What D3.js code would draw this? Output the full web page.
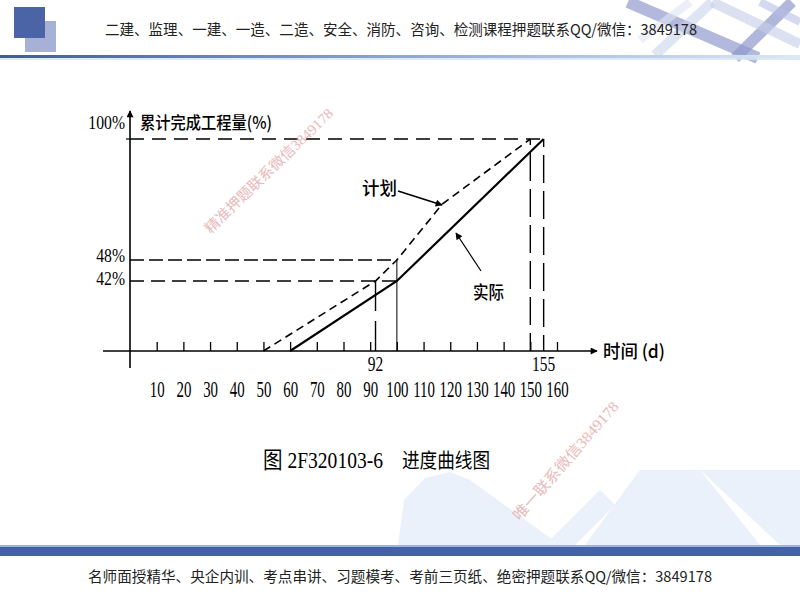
<!DOCTYPE html>
<html>
<head>
<meta charset="utf-8">
<script src="https://cdn.jsdelivr.net/npm/d3@7"></script>
<style>
  html, body { margin: 0; padding: 0; background: #fff; }
  svg { display: block; }
</style>
</head>
<body>
<svg id="chart" width="800" height="600"></svg>
<script>
// ---------- data ----------
const planDays   = [50, 92, 100, 117, 150];
const planPct    = [0, 42, 48, 72, 100];
const actualDays = [60, 100, 155];
const actualPct  = [0, 42, 100];
const xTicks     = [10, 20, 30, 40, 50, 60, 70, 80, 90, 100, 110, 120, 130, 140, 150, 160];
const keyDays    = [92, 155];
const yMarks     = [100, 48, 42];
const yMarkLabels = ["100%", "48%", "42%"];
const headerText = "二建、监理、一建、一造、二造、安全、消防、咨询、检测课程押题联系QQ/微信：3849178";
const footerText = "名师面授精华、央企内训、考点串讲、习题模考、考前三页纸、绝密押题联系QQ/微信：3849178";
const yTitle = "累计完成工程量(%)";
const xTitle = "时间 (d)";
const planLabel = "计划";
const actualLabel = "实际";
const captionA = "图 2F320103-6";
const captionB = "进度曲线图";
const watermark1 = "精准押题联系微信3849178";
const watermark2 = "唯一联系微信3849178";

const svg = d3.select("#chart");
const CJK = "'Noto Sans CJK SC', 'Noto Sans', sans-serif";
const SERIF = "'Liberation Serif', 'Noto Sans CJK SC', serif";

// ---------- background decoration ----------
const defs = svg.append("defs");
const hg = defs.append("linearGradient").attr("id", "hline").attr("x1", "0").attr("x2", "1");
hg.append("stop").attr("offset", "0").attr("stop-color", "#3e5a9e");
hg.append("stop").attr("offset", "0.5").attr("stop-color", "#8fa6d2");
hg.append("stop").attr("offset", "1").attr("stop-color", "#dde8f4");
defs.append("marker").attr("id", "arr").attr("viewBox", "0 0 10 10")
  .attr("refX", 9).attr("refY", 5).attr("markerWidth", 9).attr("markerHeight", 7)
  .attr("markerUnits", "userSpaceOnUse").attr("orient", "auto")
  .append("path").attr("d", "M0,0 L10,5 L0,10 Z").attr("fill", "#000");

// bottom faint shapes
const bg = svg.append("g").attr("fill", "#eaf1fb");
[
  [[398,545],[404,500],[425,478],[450,472],[470,480],[560,545]],
  [[585,545],[640,470],[700,470],[760,545]],
  [[545,545],[600,490],[615,505],[575,545]],
  [[700,470],[800,470],[800,545],[780,545]]
].forEach(p => bg.append("path").attr("d", d3.line()(p) + "Z"));

// top-right crossing stripes
const tr = svg.append("g").attr("stroke-linecap", "butt").attr("fill", "none");
[
  [[628,2],[758,58],"#9aa2d2",12,0.75],
  [[735,58],[792,2],"#8f98cc",11,0.7],
  [[655,55],[712,2],"#c9d3ea",10,0.6],
  [[712,2],[800,44],"#c4cde8",10,0.6],
  [[690,2],[640,40],"#dfe5f3",8,0.6],
  [[760,2],[800,22],"#b5bfe2",8,0.6]
].forEach(s => tr.append("line").attr("x1", s[0][0]).attr("y1", s[0][1])
  .attr("x2", s[1][0]).attr("y2", s[1][1]).attr("stroke", s[2])
  .attr("stroke-width", s[3]).attr("opacity", s[4]));

// logo squares
svg.append("rect").attr("x", 25).attr("y", 21).attr("width", 31).attr("height", 31).attr("fill", "#a7b1d8");
svg.append("rect").attr("x", 14).attr("y", 7).attr("width", 31).attr("height", 31).attr("fill", "#4b64a6");

// header text and line
svg.append("text").attr("x", 105).attr("y", 35).attr("font-family", CJK).attr("font-size", 15)
  .attr("fill", "#222").attr("textLength", 592).attr("lengthAdjust", "spacingAndGlyphs").text(headerText);
svg.append("rect").attr("x", 0).attr("y", 55).attr("width", 800).attr("height", 3).attr("fill", "url(#hline)");
svg.append("rect").attr("x", 0).attr("y", 58).attr("width", 800).attr("height", 2).attr("fill", "#d6e3f2").attr("opacity", 0.8);

// footer bar and text
svg.append("rect").attr("x", 0).attr("y", 545).attr("width", 800).attr("height", 2).attr("fill", "#9fb3dc");
svg.append("rect").attr("x", 0).attr("y", 547).attr("width", 800).attr("height", 9).attr("fill", "#4462a6");
svg.append("text").attr("x", 88).attr("y", 582).attr("font-family", CJK).attr("font-size", 14.5)
  .attr("fill", "#222").attr("textLength", 624).attr("lengthAdjust", "spacingAndGlyphs").text(footerText);

// ---------- scales ----------
const x = d3.scaleLinear().domain([0, 160]).range([130, 557]);
const y = d3.scaleLinear().domain([0, 42, 48, 100]).range([351, 281, 260, 139]);

const g = svg.append("g");

// reference lines
const refH = [
  {v: 100, to: 155, dash: "14,8"},
  {v: 48,  to: 100, dash: "14,5"},
  {v: 42,  to: 100, dash: "14,7"}
];
refH.forEach(r => g.append("line").attr("x1", x(0)).attr("x2", x(r.to))
  .attr("y1", y(r.v)).attr("y2", y(r.v)).attr("stroke", "#000").attr("stroke-width", 1.6)
  .attr("stroke-dasharray", r.dash));

const refV = [
  {d: 92,  from: 42,  dash: "30,10", w: 1.4},
  {d: 100, from: 48,  dash: null,   w: 1},
  {d: 150, from: 100, dash: "28,8", w: 1.4, off: -14},
  {d: 155, from: 100, dash: "28,8", w: 1.4, off: -16}
];
refV.forEach(r => {
  const l = g.append("line").attr("x1", x(r.d)).attr("x2", x(r.d))
    .attr("y1", y(r.from)).attr("y2", y(0)).attr("stroke", "#000").attr("stroke-width", r.w);
  if (r.dash) l.attr("stroke-dasharray", r.dash).attr("stroke-dashoffset", r.off || 0);
});

// axes lines
g.append("line").attr("x1", 103).attr("x2", 597).attr("y1", y(0)).attr("y2", y(0))
  .attr("stroke", "#000").attr("stroke-width", 1.6).attr("marker-end", "url(#arr)");
g.append("line").attr("x1", x(0)).attr("x2", x(0)).attr("y1", 368).attr("y2", 111)
  .attr("stroke", "#000").attr("stroke-width", 1.6).attr("marker-end", "url(#arr)");
g.append("line").attr("x1", x(0) - 4).attr("x2", x(0)).attr("y1", y(100)).attr("y2", y(100))
  .attr("stroke", "#000").attr("stroke-width", 1.2);

// x axis ticks + labels
const xAxis = d3.axisBottom(x).tickValues(xTicks).tickSizeInner(-9).tickSizeOuter(0)
  .tickPadding(30).tickFormat(d3.format("d"));
const ax = g.append("g").attr("transform", `translate(0,${y(0)})`).call(xAxis);
ax.select(".domain").remove();
ax.selectAll(".tick line").attr("stroke", "#000").attr("stroke-width", 1.3);
ax.selectAll(".tick text").attr("font-family", SERIF).attr("font-size", 22.5)
  .attr("fill", "#000").attr("transform", "scale(0.66,1)");

// key day labels
keyDays.forEach(d => g.append("text").attr("transform", `translate(${x(d)},371) scale(0.72,1)`)
  .attr("text-anchor", "middle").attr("font-family", SERIF).attr("font-size", 21.5).text(d));

// y labels
yMarks.forEach((v, i) => {
  const yy = v === 100 ? y(v) - 10 : (v === 48 ? y(v) + 2 : y(v) + 4);
  g.append("text").attr("transform", `translate(125,${yy}) scale(0.85,1)`)
    .attr("text-anchor", "end").attr("font-family", SERIF).attr("font-size", 18.5).text(yMarkLabels[i]);
});

// axis titles
g.append("text").attr("x", 140).attr("y", 129).attr("font-family", CJK).attr("font-size", 17)
  .attr("font-weight", 500).attr("textLength", 132).attr("lengthAdjust", "spacingAndGlyphs").text(yTitle);
g.append("text").attr("x", 603).attr("y", 358).attr("font-family", CJK).attr("font-size", 18)
  .attr("font-weight", 500).attr("textLength", 62).attr("lengthAdjust", "spacingAndGlyphs").text(xTitle);

// curves
const line = d3.line().x(d => x(d[0])).y(d => y(d[1]));
g.append("path").datum(d3.zip(planDays, planPct)).attr("d", line)
  .attr("fill", "none").attr("stroke", "#000").attr("stroke-width", 1.6).attr("stroke-dasharray", "8,5");
g.append("path").datum(d3.zip(actualDays, actualPct)).attr("d", line)
  .attr("fill", "none").attr("stroke", "#000").attr("stroke-width", 2.2);

// annotations
g.append("text").attr("x", 362).attr("y", 195).attr("font-family", CJK).attr("font-size", 18)
  .attr("font-weight", 500).attr("textLength", 35).attr("lengthAdjust", "spacingAndGlyphs").text(planLabel);
g.append("line").attr("x1", 398).attr("y1", 191).attr("x2", 442).attr("y2", 205)
  .attr("stroke", "#000").attr("stroke-width", 1.6).attr("marker-end", "url(#arr)");
g.append("text").attr("x", 473).attr("y", 299).attr("font-family", CJK).attr("font-size", 18)
  .attr("font-weight", 500).attr("textLength", 31).attr("lengthAdjust", "spacingAndGlyphs").text(actualLabel);
g.append("line").attr("x1", 481).attr("y1", 271).attr("x2", 456).attr("y2", 233)
  .attr("stroke", "#000").attr("stroke-width", 1.2).attr("marker-end", "url(#arr)");

// caption
svg.append("text").attr("x", 263).attr("y", 468).attr("font-family", SERIF).attr("font-size", 23)
  .attr("textLength", 120).attr("lengthAdjust", "spacingAndGlyphs").text(captionA);
svg.append("text").attr("x", 402).attr("y", 468).attr("font-family", CJK).attr("font-size", 20)
  .attr("textLength", 88).attr("lengthAdjust", "spacingAndGlyphs").text(captionB);

// watermarks
svg.append("text").attr("transform", "translate(270,172) rotate(-44)").attr("text-anchor", "middle")
  .attr("dominant-baseline", "middle").attr("font-family", SERIF).attr("font-size", 14.5)
  .attr("fill", "#e3a9a9").attr("opacity", 0.8).attr("textLength", 172).attr("lengthAdjust", "spacingAndGlyphs").text(watermark1);
svg.append("text").attr("transform", "translate(567,462) rotate(-49)").attr("text-anchor", "middle")
  .attr("dominant-baseline", "middle").attr("font-family", SERIF).attr("font-size", 15)
  .attr("fill", "#e3a9a9").attr("opacity", 0.8).attr("textLength", 152).attr("lengthAdjust", "spacingAndGlyphs").text(watermark2);
</script>
</body>
</html>
